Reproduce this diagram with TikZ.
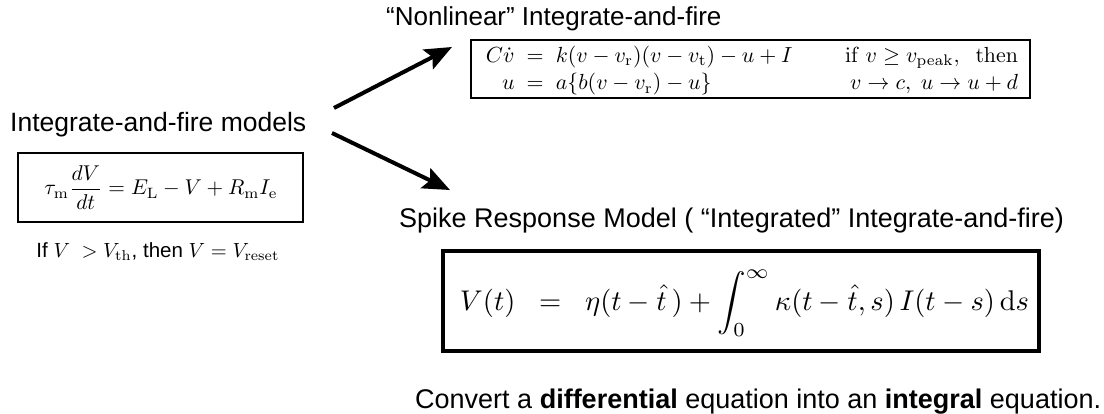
\documentclass[tikz,border=0pt]{standalone}
\usepackage{amsmath}
\usepackage{graphicx}
\usepackage[no-math]{fontspec}
\setmainfont{Liberation Sans}
\usetikzlibrary{arrows.meta}
\tikzset{
  eqbox/.style={draw=black, line width=2pt, inner sep=0pt, fill=white},
  thickbox/.style={draw=black, line width=3.5pt, inner sep=0pt, fill=white},
  title/.style={anchor=base west, inner sep=0pt, font=\fontsize{27}{32}\selectfont},
  bigarrow/.style={line width=4pt, -{Stealth[length=27pt,width=22pt,inset=5pt]}},
}
\begin{document}
\begin{tikzpicture}[x=1pt,y=-1pt]
\useasboundingbox[fill=white] (0,0) rectangle (1104,414);

% left part
\node[title, font=\fontsize{26.5}{31}\selectfont] (t1) at (10,132) {Integrate-and-fire models};
\node[eqbox, minimum width=285pt, minimum height=69pt] (b1) at (160.5,187.5) {};
\node[inner sep=0pt] (e1) at (161,187.5) {\resizebox{233pt}{!}{$\tau_{\mathrm{m}}\dfrac{dV}{dt} = E_{\mathrm{L}} - V + R_{\mathrm{m}} I_{\mathrm{e}}$}};
\node[inner sep=0pt] (c1) at (158,252) {\resizebox{243pt}{!}{If\ $V\ >V_{\mathrm{th}}$, then $V = V_{\mathrm{reset}}$}};

% nonlinear
\node[title, font=\fontsize{26}{31}\selectfont] (t2) at (386,26) {\char"201C Nonlinear\char"201D\ Integrate-and-fire};
\node[eqbox, minimum width=559pt, minimum height=58pt] (b2) at (750.5,69) {};
\node[inner sep=0pt] (e2) at (752,70.5) {\resizebox{532pt}{!}{\renewcommand{\arraystretch}{1.05}$\begin{array}{@{}r@{\;\;}c@{\;\;}l@{\hspace{2.4em}}r@{}}
C\dot v & = & k(v-v_{\mathrm{r}})(v-v_{\mathrm{t}})-u+I & \mathrm{if}\ v\ge v_{\mathrm{peak}},\ \ \mathrm{then}\\
u & = & a\{b(v-v_{\mathrm{r}})-u\} & v\to c,\ u\to u+d
\end{array}$}};

% spike response
\node[title] (t3) at (399,228) {Spike Response Model ( \char"201C Integrated\char"201D\ Integrate-and-fire)};
\node[thickbox, minimum width=596pt, minimum height=100pt] (b3) at (741,301) {};
\node[inner sep=0pt] (e3) at (744.5,303) {\resizebox{569pt}{!}{$V(t)\;\;=\;\;\eta(t-\hat t\,)+\displaystyle\int_0^\infty \kappa(t-\hat t,s)\,I(t-s)\,\mathrm{d}s$}};

\node[title] (t4) at (415,408) {Convert a \textbf{differential} equation into an \textbf{integral} equation.};

% arrows
\coordinate (a1s) at (334,108);
\coordinate (a1e) at (452,47);
\coordinate (a2s) at (332,133);
\coordinate (a2e) at (450,190);
\draw[bigarrow] (a1s) -- (a1e);
\draw[bigarrow] (a2s) -- (a2e);
\end{tikzpicture}
\end{document}
